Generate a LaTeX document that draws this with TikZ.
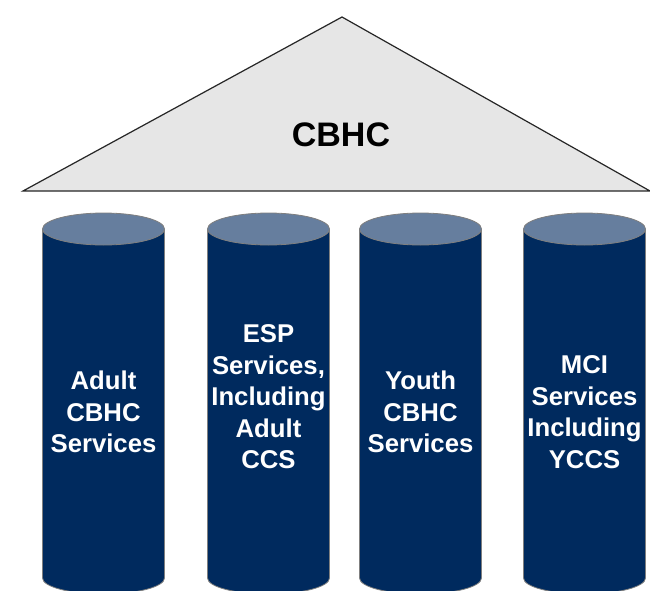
\documentclass[tikz,border=0pt]{standalone}
\usepackage{fontspec}
\setmainfont{Liberation Sans}
\definecolor{navy}{HTML}{002A5E}
\definecolor{capc}{HTML}{667E9E}
\definecolor{roofc}{HTML}{E6E6E6}
\definecolor{edgec}{HTML}{7F7F7F}
\begin{document}
\begin{tikzpicture}[x=1pt,y=-1pt,
  pillar/.style={fill=navy,draw=edgec,line width=0.8pt},
  capface/.style={fill=capc,draw=edgec,line width=0.8pt},
  lbl/.style={text=white,font=\bfseries\fontsize{25.7}{31.5}\selectfont,align=center,inner sep=0pt},
  rooflbl/.style={text=black,font=\bfseries\fontsize{34}{40}\selectfont,inner sep=0pt}]
\useasboundingbox (0,0) rectangle (650,591);
\clip (0,0) rectangle (650,591);
% roof
\draw[fill=roofc,draw=black!85,line width=1.2pt,line join=miter]
  (23,191) -- (342,17) -- (650,191) -- cycle;
\node[rooflbl] (roof) at (341,135) {CBHC};
% pillars
\foreach \cx in {103.5,268.5,420.5,584.5}{
  \draw[pillar] (\cx-61,229) -- (\cx-61,578)
     arc[start angle=180,end angle=0,x radius=61,y radius=16]
     -- (\cx+61,229) -- cycle;
  \draw[capface] (\cx,229) ellipse[x radius=61,y radius=16];
}
\node[lbl] (p1) at (103.5,412) {Adult\\CBHC\\Services};
\node[lbl] (p2) at (268.5,397) {ESP\\Services,\\Including\\Adult\\CCS};
\node[lbl] (p3) at (420.5,412) {Youth\\CBHC\\Services};
\node[lbl] (p4) at (584.5,412) {MCI\\Services\\Including\\YCCS};
\end{tikzpicture}
\end{document}
